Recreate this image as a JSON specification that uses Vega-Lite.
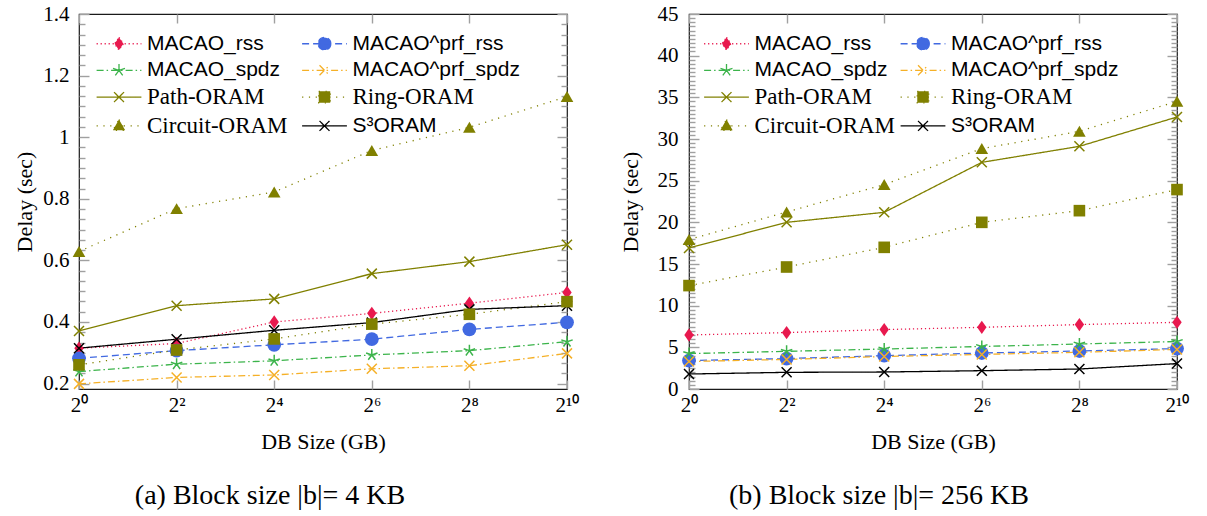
{
  "$schema": "https://vega.github.io/schema/vega-lite/v6.json",
  "background": "white",
  "padding": {"left": 12, "top": 2, "right": 5, "bottom": 5},
  "spacing": 28,
  "datasets": {
    "a": [
      {"series":"MACAO_rss","size":1,"delay":0.315},{"series":"MACAO_rss","size":4,"delay":0.33},{"series":"MACAO_rss","size":16,"delay":0.40},{"series":"MACAO_rss","size":64,"delay":0.428},{"series":"MACAO_rss","size":256,"delay":0.461},{"series":"MACAO_rss","size":1024,"delay":0.496},
      {"series":"MACAO^prf_rss","size":1,"delay":0.282},{"series":"MACAO^prf_rss","size":4,"delay":0.307},{"series":"MACAO^prf_rss","size":16,"delay":0.326},{"series":"MACAO^prf_rss","size":64,"delay":0.344},{"series":"MACAO^prf_rss","size":256,"delay":0.376},{"series":"MACAO^prf_rss","size":1024,"delay":0.399},
      {"series":"MACAO_spdz","size":1,"delay":0.239},{"series":"MACAO_spdz","size":4,"delay":0.263},{"series":"MACAO_spdz","size":16,"delay":0.274},{"series":"MACAO_spdz","size":64,"delay":0.293},{"series":"MACAO_spdz","size":256,"delay":0.307},{"series":"MACAO_spdz","size":1024,"delay":0.336},
      {"series":"MACAO^prf_spdz","size":1,"delay":0.199},{"series":"MACAO^prf_spdz","size":4,"delay":0.22},{"series":"MACAO^prf_spdz","size":16,"delay":0.228},{"series":"MACAO^prf_spdz","size":64,"delay":0.248},{"series":"MACAO^prf_spdz","size":256,"delay":0.258},{"series":"MACAO^prf_spdz","size":1024,"delay":0.298},
      {"series":"Path-ORAM","size":1,"delay":0.371},{"series":"Path-ORAM","size":4,"delay":0.453},{"series":"Path-ORAM","size":16,"delay":0.475},{"series":"Path-ORAM","size":64,"delay":0.557},{"series":"Path-ORAM","size":256,"delay":0.596},{"series":"Path-ORAM","size":1024,"delay":0.651},
      {"series":"Ring-ORAM","size":1,"delay":0.261},{"series":"Ring-ORAM","size":4,"delay":0.309},{"series":"Ring-ORAM","size":16,"delay":0.345},{"series":"Ring-ORAM","size":64,"delay":0.393},{"series":"Ring-ORAM","size":256,"delay":0.425},{"series":"Ring-ORAM","size":1024,"delay":0.466},
      {"series":"Circuit-ORAM","size":1,"delay":0.629},{"series":"Circuit-ORAM","size":4,"delay":0.768},{"series":"Circuit-ORAM","size":16,"delay":0.822},{"series":"Circuit-ORAM","size":64,"delay":0.957},{"series":"Circuit-ORAM","size":256,"delay":1.032},{"series":"Circuit-ORAM","size":1024,"delay":1.132},
      {"series":"S³ORAM","size":1,"delay":0.315},{"series":"S³ORAM","size":4,"delay":0.344},{"series":"S³ORAM","size":16,"delay":0.373},{"series":"S³ORAM","size":64,"delay":0.398},{"series":"S³ORAM","size":256,"delay":0.441},{"series":"S³ORAM","size":1024,"delay":0.453}
    ],
    "b": [
      {"series":"MACAO_rss","size":1,"delay":6.48},{"series":"MACAO_rss","size":4,"delay":6.77},{"series":"MACAO_rss","size":16,"delay":7.13},{"series":"MACAO_rss","size":64,"delay":7.4},{"series":"MACAO_rss","size":256,"delay":7.73},{"series":"MACAO_rss","size":1024,"delay":8.0},
      {"series":"MACAO^prf_rss","size":1,"delay":3.41},{"series":"MACAO^prf_rss","size":4,"delay":3.65},{"series":"MACAO^prf_rss","size":16,"delay":4.0},{"series":"MACAO^prf_rss","size":64,"delay":4.32},{"series":"MACAO^prf_rss","size":256,"delay":4.56},{"series":"MACAO^prf_rss","size":1024,"delay":4.85},
      {"series":"MACAO_spdz","size":1,"delay":4.25},{"series":"MACAO_spdz","size":4,"delay":4.52},{"series":"MACAO_spdz","size":16,"delay":4.8},{"series":"MACAO_spdz","size":64,"delay":5.1},{"series":"MACAO_spdz","size":256,"delay":5.4},{"series":"MACAO_spdz","size":1024,"delay":5.7},
      {"series":"MACAO^prf_spdz","size":1,"delay":3.3},{"series":"MACAO^prf_spdz","size":4,"delay":3.55},{"series":"MACAO^prf_spdz","size":16,"delay":3.9},{"series":"MACAO^prf_spdz","size":64,"delay":4.15},{"series":"MACAO^prf_spdz","size":256,"delay":4.4},{"series":"MACAO^prf_spdz","size":1024,"delay":4.75},
      {"series":"Path-ORAM","size":1,"delay":16.92},{"series":"Path-ORAM","size":4,"delay":20.0},{"series":"Path-ORAM","size":16,"delay":21.2},{"series":"Path-ORAM","size":64,"delay":27.2},{"series":"Path-ORAM","size":256,"delay":29.12},{"series":"Path-ORAM","size":1024,"delay":32.64},
      {"series":"Ring-ORAM","size":1,"delay":12.41},{"series":"Ring-ORAM","size":4,"delay":14.64},{"series":"Ring-ORAM","size":16,"delay":17.0},{"series":"Ring-ORAM","size":64,"delay":20.0},{"series":"Ring-ORAM","size":256,"delay":21.4},{"series":"Ring-ORAM","size":1024,"delay":23.93},
      {"series":"Circuit-ORAM","size":1,"delay":17.93},{"series":"Circuit-ORAM","size":4,"delay":21.24},{"series":"Circuit-ORAM","size":16,"delay":24.53},{"series":"Circuit-ORAM","size":64,"delay":28.85},{"series":"Circuit-ORAM","size":256,"delay":30.92},{"series":"Circuit-ORAM","size":1024,"delay":34.52},
      {"series":"S³ORAM","size":1,"delay":1.8},{"series":"S³ORAM","size":4,"delay":2.0},{"series":"S³ORAM","size":16,"delay":2.04},{"series":"S³ORAM","size":64,"delay":2.2},{"series":"S³ORAM","size":256,"delay":2.4},{"series":"S³ORAM","size":1024,"delay":3.05}
    ]
  },
  "hconcat": [
    {
      "width": 488,
      "height": 375,
      "data": {"name": "a"},
      "title": {"text": "(a) Block size |b|= 4 KB", "orient": "bottom", "frame": "group", "anchor": "middle", "dx": -53, "offset": 30, "baseline": "top", "font": "Liberation Serif", "fontSize": 28, "fontWeight": "normal", "color": "black"},
      "resolve": {"axis": {"x": "independent", "y": "independent"}},
      "layer": [
        {
          "mark": {"type": "line", "strokeWidth": 1.3},
          "encoding": {
            "x": {"field": "size", "type": "quantitative", "scale": {"type": "log", "base": 2, "domain": [1, 1024], "nice": false, "zero": false},
              "axis": {"orient": "bottom", "values": [1,4,16,64,256,1024], "labelExpr": "datum.value == 1 ? '2⁰' : datum.value == 4 ? '2²' : datum.value == 16 ? '2⁴' : datum.value == 64 ? '2⁶' : datum.value == 256 ? '2⁸' : '2¹⁰'", "labelFlush": false, "labelOverlap": false, "tickSize": -9, "labelPadding": 14, "title": "DB Size (GB)", "titleX": 244, "titleY": 52, "titleBaseline": "middle"}},
            "y": {"field": "delay", "type": "quantitative", "scale": {"domain": [0.1824, 1.4], "nice": false, "zero": false},
              "axis": {"orient": "left", "values": [0.2,0.2333,0.2667,0.3,0.3333,0.3667,0.4,0.4333,0.4667,0.5,0.5333,0.5667,0.6,0.6333,0.6667,0.7,0.7333,0.7667,0.8,0.8333,0.8667,0.9,0.9333,0.9667,1,1.0333,1.0667,1.1,1.1333,1.1667,1.2,1.2333,1.2667,1.3,1.3333,1.3667,1.4], "labelExpr": "abs(datum.value*5 - round(datum.value*5)) < 0.01 ? format(datum.value, '~g') : ''", "labelOverlap": false, "labelBound": false, "tickSize": {"condition": {"test": "abs(datum.value*5 - round(datum.value*5)) < 0.01", "value": -10}, "value": -6}, "labelPadding": 20, "title": "Delay (sec)", "titleX": -55, "titleY": 187.5, "titleBaseline": "middle"}},
            "color": {"field": "series", "type": "nominal",
              "scale": {"domain": ["MACAO_rss","MACAO^prf_rss","MACAO_spdz","MACAO^prf_spdz","Path-ORAM","Ring-ORAM","Circuit-ORAM","S³ORAM"], "range": ["#e8194e","#4169e1","#3cb44b","#f5b027","#808000","#808000","#808000","#000000"]},
              "legend": {
                "title": null, "orient": "none", "direction": "horizontal", "legendX": 29.5, "legendY": 19, "columns": 2, "columnPadding": 10.5, "rowPadding": 4.8, "padding": 0,
                "symbolSize": 196, "symbolStrokeWidth": 1.3, "symbolOpacity": 1, "labelOffset": 17.5, "labelColor": "black", "labelLimit": 400,
                "labelFont": {"expr": "indexof(['Path-ORAM','Ring-ORAM','Circuit-ORAM'], datum.value) >= 0 ? 'Liberation Serif' : 'Liberation Sans'"},
                "labelFontSize": {"expr": "indexof(['Path-ORAM','Ring-ORAM','Circuit-ORAM'], datum.value) >= 0 ? 23 : 21"}
              }},
            "strokeDash": {"field": "series", "type": "nominal",
              "scale": {"domain": ["MACAO_rss","MACAO^prf_rss","MACAO_spdz","MACAO^prf_spdz","Path-ORAM","Ring-ORAM","Circuit-ORAM","S³ORAM"], "range": [[1.2,2.8],[7,4],[7,3,1.5,3],[7,3,1.5,3],[1,0],[1.2,5.6],[1.2,5.6],[1,0]]}}
          }
        },
        {"transform": [{"filter": "datum.series === 'MACAO_rss'"}], "mark": {"type": "point", "shape": "M0,-1L0.7,0L0,1L-0.7,0Z", "filled": true, "size": 180, "opacity": 1},
         "encoding": {"x": {"field": "size", "type": "quantitative", "axis": null}, "y": {"field": "delay", "type": "quantitative", "axis": null}, "color": {"field": "series", "type": "nominal"}}},
        {"transform": [{"filter": "datum.series === 'MACAO^prf_rss'"}], "mark": {"type": "point", "shape": "circle", "filled": true, "size": 190, "opacity": 1},
         "encoding": {"x": {"field": "size", "type": "quantitative", "axis": null}, "y": {"field": "delay", "type": "quantitative", "axis": null}, "color": {"field": "series", "type": "nominal"}}},
        {"transform": [{"filter": "datum.series === 'MACAO_spdz'"}], "mark": {"type": "point", "shape": "M0,0L0,-1.2M0,0L1.141,-0.371M0,0L0.705,0.971M0,0L-0.705,0.971M0,0L-1.141,-0.371", "filled": false, "strokeWidth": 1.5, "size": 100, "opacity": 1},
         "encoding": {"x": {"field": "size", "type": "quantitative", "axis": null}, "y": {"field": "delay", "type": "quantitative", "axis": null}, "color": {"field": "series", "type": "nominal"}}},
        {"transform": [{"filter": "datum.series === 'MACAO^prf_spdz' || datum.series === 'Path-ORAM' || datum.series === 'S³ORAM'"}], "mark": {"type": "point", "shape": "M-1,-1L1,1M-1,1L1,-1", "filled": false, "strokeWidth": 1.5, "size": 100, "opacity": 1},
         "encoding": {"x": {"field": "size", "type": "quantitative", "axis": null}, "y": {"field": "delay", "type": "quantitative", "axis": null}, "color": {"field": "series", "type": "nominal"}}},
        {"transform": [{"filter": "datum.series === 'Ring-ORAM'"}], "mark": {"type": "point", "shape": "square", "filled": true, "size": 135, "opacity": 1},
         "encoding": {"x": {"field": "size", "type": "quantitative", "axis": null}, "y": {"field": "delay", "type": "quantitative", "axis": null}, "color": {"field": "series", "type": "nominal"}}},
        {"transform": [{"filter": "datum.series === 'Circuit-ORAM'"}], "mark": {"type": "point", "shape": "triangle-up", "filled": true, "size": 160, "opacity": 1},
         "encoding": {"x": {"field": "size", "type": "quantitative", "axis": null}, "y": {"field": "delay", "type": "quantitative", "axis": null}, "color": {"field": "series", "type": "nominal"}}},
        {
          "mark": {"type": "point", "filled": false, "size": 196, "opacity": 0},
          "encoding": {
            "x": {"field": "size", "type": "quantitative", "axis": {"orient": "top", "values": [1,4,16,64,256,1024], "labels": false, "tickSize": -9, "title": null}},
            "y": {"field": "delay", "type": "quantitative", "axis": {"orient": "right", "values": [0.2,0.2333,0.2667,0.3,0.3333,0.3667,0.4,0.4333,0.4667,0.5,0.5333,0.5667,0.6,0.6333,0.6667,0.7,0.7333,0.7667,0.8,0.8333,0.8667,0.9,0.9333,0.9667,1,1.0333,1.0667,1.1,1.1333,1.1667,1.2,1.2333,1.2667,1.3,1.3333,1.3667,1.4], "labels": false, "tickSize": {"condition": {"test": "abs(datum.value*5 - round(datum.value*5)) < 0.01", "value": -10}, "value": -6}, "title": null}},
            "color": {"field": "series", "type": "nominal"},
            "strokeDash": {"field": "series", "type": "nominal"},
            "shape": {"field": "series", "type": "nominal",
              "scale": {"domain": ["MACAO_rss","MACAO^prf_rss","MACAO_spdz","MACAO^prf_spdz","Path-ORAM","Ring-ORAM","Circuit-ORAM","S³ORAM"],
                "range": ["M-3.2,0L3.2,0M0,-0.9L0.64,0L0,0.9L-0.64,0Z",
                          "M-3.2,0L3.2,0M0.9,0A0.9,0.9,0,1,1,-0.9,0A0.9,0.9,0,1,1,0.9,0Z",
                          "M-3.2,0L3.2,0M0,0L0,-0.9M0,0L0.856,-0.278M0,0L0.529,0.728M0,0L-0.529,0.728M0,0L-0.856,-0.278",
                          "M-3.2,0L3.2,0M-0.71,-0.71L0.71,0.71M-0.71,0.71L0.71,-0.71",
                          "M-3.2,0L3.2,0M-0.71,-0.71L0.71,0.71M-0.71,0.71L0.71,-0.71",
                          "M-3.2,0L3.2,0M-0.82,-0.82L0.82,-0.82L0.82,0.82L-0.82,0.82Z",
                          "M-3.2,0L3.2,0M0,-0.9L0.88,0.62L-0.88,0.62Z",
                          "M-3.2,0L3.2,0M-0.71,-0.71L0.71,0.71M-0.71,0.71L0.71,-0.71"]}}
          }
        }
      ]
    },
    {
      "width": 488,
      "height": 375,
      "data": {"name": "b"},
      "title": {"text": "(b) Block size |b|= 256 KB", "orient": "bottom", "frame": "group", "anchor": "middle", "dx": -54, "offset": 30, "baseline": "top", "font": "Liberation Serif", "fontSize": 28, "fontWeight": "normal", "color": "black"},
      "resolve": {"axis": {"x": "independent", "y": "independent"}},
      "layer": [
        {
          "mark": {"type": "line", "strokeWidth": 1.3},
          "encoding": {
            "x": {"field": "size", "type": "quantitative", "scale": {"type": "log", "base": 2, "domain": [1, 1024], "nice": false, "zero": false},
              "axis": {"orient": "bottom", "values": [1,4,16,64,256,1024], "labelExpr": "datum.value == 1 ? '2⁰' : datum.value == 4 ? '2²' : datum.value == 16 ? '2⁴' : datum.value == 64 ? '2⁶' : datum.value == 256 ? '2⁸' : '2¹⁰'", "labelFlush": false, "labelOverlap": false, "tickSize": -9, "labelPadding": 14, "title": "DB Size (GB)", "titleX": 244, "titleY": 52, "titleBaseline": "middle"}},
            "y": {"field": "delay", "type": "quantitative", "scale": {"domain": [0, 45], "nice": false, "zero": false},
              "axis": {"orient": "left", "values": [0,0.5,1,1.5,2,2.5,3,3.5,4,4.5,5,5.5,6,6.5,7,7.5,8,8.5,9,9.5,10,10.5,11,11.5,12,12.5,13,13.5,14,14.5,15,15.5,16,16.5,17,17.5,18,18.5,19,19.5,20,20.5,21,21.5,22,22.5,23,23.5,24,24.5,25,25.5,26,26.5,27,27.5,28,28.5,29,29.5,30,30.5,31,31.5,32,32.5,33,33.5,34,34.5,35,35.5,36,36.5,37,37.5,38,38.5,39,39.5,40,40.5,41,41.5,42,42.5,43,43.5,44,44.5,45], "labelExpr": "datum.value % 5 == 0 ? format(datum.value, 'd') : ''", "labelOverlap": false, "labelBound": false, "tickSize": {"condition": {"test": "datum.value % 5 == 0", "value": -10}, "value": -6}, "labelPadding": 21, "title": "Delay (sec)", "titleX": -59, "titleY": 187.5, "titleBaseline": "middle"}},
            "color": {"field": "series", "type": "nominal",
              "scale": {"domain": ["MACAO_rss","MACAO^prf_rss","MACAO_spdz","MACAO^prf_spdz","Path-ORAM","Ring-ORAM","Circuit-ORAM","S³ORAM"], "range": ["#e8194e","#4169e1","#3cb44b","#f5b027","#808000","#808000","#808000","#000000"]},
              "legend": {
                "title": null, "orient": "none", "direction": "horizontal", "legendX": 27, "legendY": 19, "columns": 2, "columnPadding": 1.5, "rowPadding": 4.8, "padding": 0,
                "symbolSize": 196, "symbolStrokeWidth": 1.3, "symbolOpacity": 1, "labelOffset": 17.5, "labelColor": "black", "labelLimit": 400,
                "labelFont": {"expr": "indexof(['Path-ORAM','Ring-ORAM','Circuit-ORAM'], datum.value) >= 0 ? 'Liberation Serif' : 'Liberation Sans'"},
                "labelFontSize": {"expr": "indexof(['Path-ORAM','Ring-ORAM','Circuit-ORAM'], datum.value) >= 0 ? 23 : 21"}
              }},
            "strokeDash": {"field": "series", "type": "nominal",
              "scale": {"domain": ["MACAO_rss","MACAO^prf_rss","MACAO_spdz","MACAO^prf_spdz","Path-ORAM","Ring-ORAM","Circuit-ORAM","S³ORAM"], "range": [[1.2,2.8],[7,4],[7,3,1.5,3],[7,3,1.5,3],[1,0],[1.2,5.6],[1.2,5.6],[1,0]]}}
          }
        },
        {"transform": [{"filter": "datum.series === 'MACAO_rss'"}], "mark": {"type": "point", "shape": "M0,-1L0.7,0L0,1L-0.7,0Z", "filled": true, "size": 180, "opacity": 1},
         "encoding": {"x": {"field": "size", "type": "quantitative", "axis": null}, "y": {"field": "delay", "type": "quantitative", "axis": null}, "color": {"field": "series", "type": "nominal"}}},
        {"transform": [{"filter": "datum.series === 'MACAO^prf_rss'"}], "mark": {"type": "point", "shape": "circle", "filled": true, "size": 190, "opacity": 1},
         "encoding": {"x": {"field": "size", "type": "quantitative", "axis": null}, "y": {"field": "delay", "type": "quantitative", "axis": null}, "color": {"field": "series", "type": "nominal"}}},
        {"transform": [{"filter": "datum.series === 'MACAO_spdz'"}], "mark": {"type": "point", "shape": "M0,0L0,-1.2M0,0L1.141,-0.371M0,0L0.705,0.971M0,0L-0.705,0.971M0,0L-1.141,-0.371", "filled": false, "strokeWidth": 1.5, "size": 100, "opacity": 1},
         "encoding": {"x": {"field": "size", "type": "quantitative", "axis": null}, "y": {"field": "delay", "type": "quantitative", "axis": null}, "color": {"field": "series", "type": "nominal"}}},
        {"transform": [{"filter": "datum.series === 'MACAO^prf_spdz' || datum.series === 'Path-ORAM' || datum.series === 'S³ORAM'"}], "mark": {"type": "point", "shape": "M-1,-1L1,1M-1,1L1,-1", "filled": false, "strokeWidth": 1.5, "size": 100, "opacity": 1},
         "encoding": {"x": {"field": "size", "type": "quantitative", "axis": null}, "y": {"field": "delay", "type": "quantitative", "axis": null}, "color": {"field": "series", "type": "nominal"}}},
        {"transform": [{"filter": "datum.series === 'Ring-ORAM'"}], "mark": {"type": "point", "shape": "square", "filled": true, "size": 135, "opacity": 1},
         "encoding": {"x": {"field": "size", "type": "quantitative", "axis": null}, "y": {"field": "delay", "type": "quantitative", "axis": null}, "color": {"field": "series", "type": "nominal"}}},
        {"transform": [{"filter": "datum.series === 'Circuit-ORAM'"}], "mark": {"type": "point", "shape": "triangle-up", "filled": true, "size": 160, "opacity": 1},
         "encoding": {"x": {"field": "size", "type": "quantitative", "axis": null}, "y": {"field": "delay", "type": "quantitative", "axis": null}, "color": {"field": "series", "type": "nominal"}}},
        {
          "mark": {"type": "point", "filled": false, "size": 196, "opacity": 0},
          "encoding": {
            "x": {"field": "size", "type": "quantitative", "axis": {"orient": "top", "values": [1,4,16,64,256,1024], "labels": false, "tickSize": -9, "title": null}},
            "y": {"field": "delay", "type": "quantitative", "axis": {"orient": "right", "values": [0,0.5,1,1.5,2,2.5,3,3.5,4,4.5,5,5.5,6,6.5,7,7.5,8,8.5,9,9.5,10,10.5,11,11.5,12,12.5,13,13.5,14,14.5,15,15.5,16,16.5,17,17.5,18,18.5,19,19.5,20,20.5,21,21.5,22,22.5,23,23.5,24,24.5,25,25.5,26,26.5,27,27.5,28,28.5,29,29.5,30,30.5,31,31.5,32,32.5,33,33.5,34,34.5,35,35.5,36,36.5,37,37.5,38,38.5,39,39.5,40,40.5,41,41.5,42,42.5,43,43.5,44,44.5,45], "labels": false, "tickSize": {"condition": {"test": "datum.value % 5 == 0", "value": -10}, "value": -6}, "title": null}},
            "color": {"field": "series", "type": "nominal"},
            "strokeDash": {"field": "series", "type": "nominal"},
            "shape": {"field": "series", "type": "nominal",
              "scale": {"domain": ["MACAO_rss","MACAO^prf_rss","MACAO_spdz","MACAO^prf_spdz","Path-ORAM","Ring-ORAM","Circuit-ORAM","S³ORAM"],
                "range": ["M-3.2,0L3.2,0M0,-0.9L0.64,0L0,0.9L-0.64,0Z",
                          "M-3.2,0L3.2,0M0.9,0A0.9,0.9,0,1,1,-0.9,0A0.9,0.9,0,1,1,0.9,0Z",
                          "M-3.2,0L3.2,0M0,0L0,-0.9M0,0L0.856,-0.278M0,0L0.529,0.728M0,0L-0.529,0.728M0,0L-0.856,-0.278",
                          "M-3.2,0L3.2,0M-0.71,-0.71L0.71,0.71M-0.71,0.71L0.71,-0.71",
                          "M-3.2,0L3.2,0M-0.71,-0.71L0.71,0.71M-0.71,0.71L0.71,-0.71",
                          "M-3.2,0L3.2,0M-0.82,-0.82L0.82,-0.82L0.82,0.82L-0.82,0.82Z",
                          "M-3.2,0L3.2,0M0,-0.9L0.88,0.62L-0.88,0.62Z",
                          "M-3.2,0L3.2,0M-0.71,-0.71L0.71,0.71M-0.71,0.71L0.71,-0.71"]}}
          }
        }
      ]
    }
  ],
  "resolve": {
    "scale": {"color": "independent", "shape": "independent", "strokeDash": "independent"},
    "legend": {"color": "independent", "shape": "independent", "strokeDash": "independent"}
  },
  "config": {
    "font": "Liberation Serif",
    "view": {"stroke": "#1a1a1a", "strokeWidth": 1.2},
    "axis": {"grid": false, "domain": false, "tickColor": "#a0a0a0", "tickWidth": 1.4, "labelFont": "Liberation Serif", "labelFontSize": 21, "labelColor": "black", "titleFont": "Liberation Serif", "titleFontSize": 22, "titleFontWeight": "normal", "titleColor": "black"}
  }
}
